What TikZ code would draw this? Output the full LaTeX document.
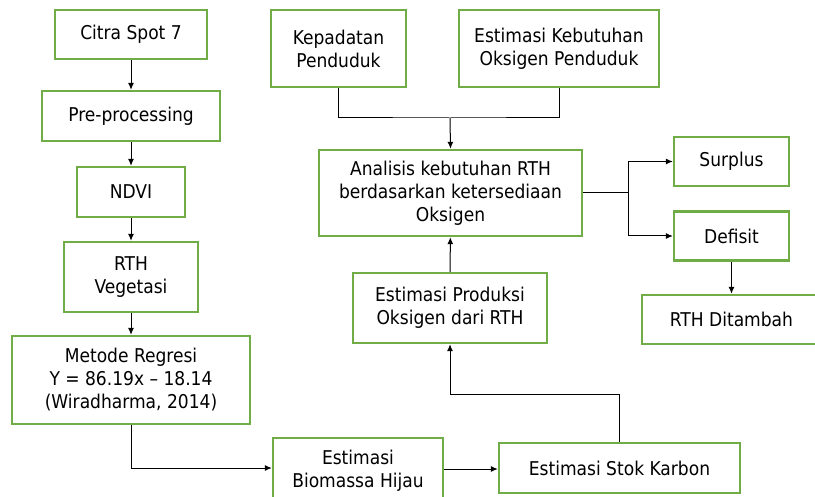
\documentclass[tikz,border=0pt]{standalone}
\usepackage{fontspec}
\setmainfont{DejaVu Sans Condensed}
\usetikzlibrary{arrows.meta}
\definecolor{boxgreen}{HTML}{70AD47}
\tikzset{
  box/.style={draw=boxgreen, line width=2.4bp, fill=white, align=center, inner sep=0pt,
    font=\fontsize{19bp}{23bp}\selectfont},
  conn/.style={draw=black, line width=1bp, -{Latex[length=7bp,width=6bp]}},
  plain/.style={draw=black, line width=1bp}
}
\begin{document}
\begin{tikzpicture}[x=1bp,y=-1bp]
\useasboundingbox (0,0) rectangle (815,497);
\clip (0,0) rectangle (815,497);
\fill[white] (0,0) rectangle (815,497);
% left column
\node[box, minimum width=152bp, minimum height=49bp] (citra) at (131,34.5) {Citra Spot 7};
\node[box, minimum width=178bp, minimum height=50bp] (pre) at (131,116) {Pre-processing};
\node[box, minimum width=108bp, minimum height=50bp] (ndvi) at (131,192) {NDVI};
\node[box, minimum width=134bp, minimum height=70bp] (rthv) at (131,277) {RTH\\Vegetasi};
\node[box, minimum width=238bp, minimum height=88bp] (reg) at (131,380) {Metode Regresi\\Y = 86.19x -- 18.14\\(Wiradharma, 2014)};
\node[box, minimum width=170bp, minimum height=66bp] (bio) at (358,471) {Estimasi\\Biomassa Hijau};
\node[box, minimum width=241bp, minimum height=50bp] (stok) at (619.5,468) {Estimasi Stok Karbon};
% middle
\node[box, minimum width=194bp, minimum height=70bp] (prod) at (450,308) {Estimasi Produksi\\Oksigen dari RTH};
\node[box, minimum width=263bp, minimum height=86bp] (anal) at (450.5,193) {Analisis kebutuhan RTH\\berdasarkan ketersediaan\\Oksigen};
\node[box, minimum width=135bp, minimum height=77bp] (kep) at (338.5,48.5) {Kepadatan\\Penduduk};
\node[box, minimum width=200bp, minimum height=77bp] (keb) at (559,48.5) {Estimasi Kebutuhan\\Oksigen Penduduk};
% right
\node[box, minimum width=115bp, minimum height=49bp] (sur) at (731.5,161.5) {Surplus};
\node[box, minimum width=115bp, minimum height=49bp] (def) at (731.5,236) {Defisit};
\node[box, minimum width=179bp, minimum height=49bp] (add) at (731.5,319.5) {RTH Ditambah};
% coordinates
\coordinate (j1) at (450,118);
\coordinate (j2) at (628,193);
% connectors
\draw[conn] (citra) -- (pre);
\draw[conn] (pre) -- (ndvi);
\draw[conn] (ndvi) -- (rthv);
\draw[conn] (rthv) -- (reg);
\draw[conn] (reg.south) |- (bio.west |- 0,468);
\draw[conn] (bio.east |- 0,469) -- (stok.west |- 0,469);
\draw[conn] (stok.north) |- (450,394) -- (prod.south);
\draw[conn] (prod) -- (anal);
\draw[plain] (kep.south) |- (j1) -| (keb.south);
\draw[conn] (j1) -- (anal.north);
\draw[plain] (anal.east) -- (j2);
\draw[conn] (j2) |- (sur.west);
\draw[conn] (j2) |- (def.west);
\draw[conn] (def) -- (add.north -| def.south);
\end{tikzpicture}
\end{document}
